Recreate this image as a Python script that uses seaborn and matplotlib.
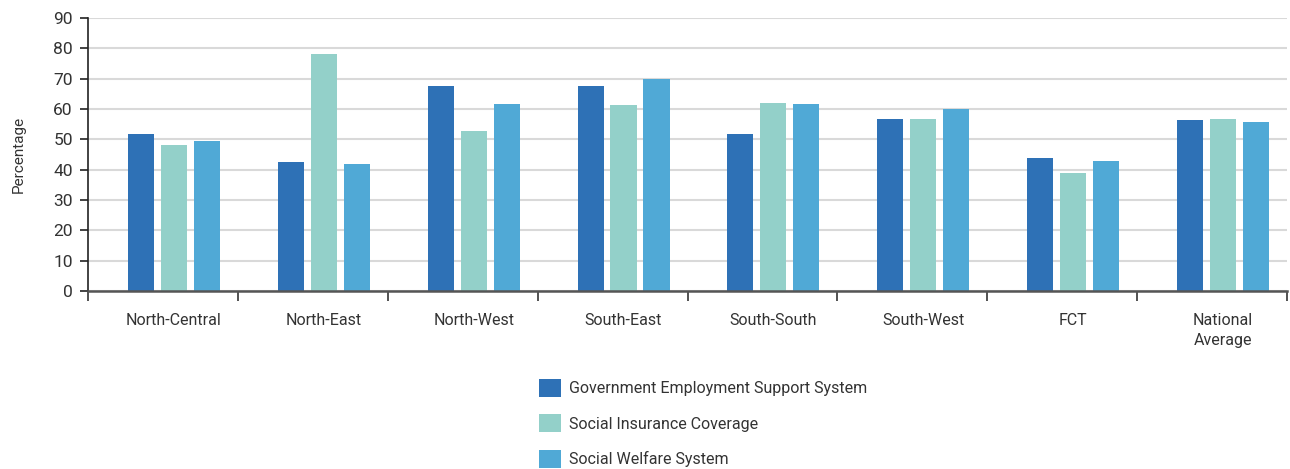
import pandas as pd
import matplotlib
matplotlib.use('Agg')
import matplotlib.pyplot as plt
from matplotlib.ticker import FixedLocator
import seaborn as sns

regions = ["North-Central", "North-East", "North-West", "South-East",
           "South-South", "South-West", "FCT", "National\nAverage"]
series = ["Government Employment Support System", "Social Insurance Coverage",
          "Social Welfare System"]
gov_support = [51.9, 42.4, 67.7, 67.7, 51.9, 56.8, 43.7, 56.5]
social_insurance = [48.0, 78.2, 52.6, 61.4, 62.1, 56.8, 38.8, 56.8]
social_welfare = [49.3, 42.0, 61.8, 70.0, 61.8, 60.1, 43.0, 55.8]
colors = ["#2E71B6", "#93D0C9", "#50A9D6"]

df = pd.DataFrame({
    "Region": regions * 3,
    "Series": [series[0]] * 8 + [series[1]] * 8 + [series[2]] * 8,
    "Value": gov_support + social_insurance + social_welfare,
})

sns.set_style("white")
plt.rcParams['font.family'] = ['Roboto', 'DejaVu Sans']

fig = plt.figure(figsize=(12.9, 4.69), dpi=100)
ax = fig.add_axes([88 / 1290, 1 - 291 / 469, (1287 - 88) / 1290, (291 - 18) / 469])

sns.barplot(data=df, x="Region", y="Value", hue="Series", order=regions,
            hue_order=series, palette=colors, width=0.66, gap=0.21,
            saturation=1, linewidth=0, ax=ax)

ax.set_ylim(0, 90)
ax.set_yticks(range(0, 91, 10))
ax.set_xlim(-0.573, 7.427)
ax.yaxis.grid(True, color="#d9d9d9", linewidth=1.5)
ax.set_axisbelow(True)
for s in ["top", "right"]:
    ax.spines[s].set_visible(False)
ax.spines["left"].set_color("#222222")
ax.spines["left"].set_linewidth(1.2)
ax.spines["bottom"].set_color("#555555")
ax.spines["bottom"].set_linewidth(1.8)

ax.xaxis.set_minor_locator(FixedLocator([i - 0.573 for i in range(9)]))
ax.tick_params(axis="x", which="major", bottom=True, length=0, pad=16,
               labelsize=11.5, labelcolor="#333333")
ax.tick_params(axis="x", which="minor", bottom=True, length=7, width=1.2,
               color="#333333", direction="out")
ax.tick_params(axis="y", left=True, length=6, width=1.2, color="#222222",
               labelsize=12.5, labelcolor="#333333", pad=5)
for t in ax.get_xticklabels():
    t.set_linespacing(1.4)
ax.set_xlabel("")
ax.set_ylabel("Percentage", fontsize=11, color="#333333", labelpad=20)

handles, labels = ax.get_legend_handles_labels()
ax.get_legend().remove()
fig.legend(handles, labels, loc="upper left", bbox_to_anchor=(531 / 1290, 1 - 371 / 469),
           frameon=False, fontsize=11.5, handlelength=1.35, handleheight=1.35,
           handletextpad=0.55, labelspacing=1.1, borderpad=0, labelcolor="#333333")

plt.savefig("out.png", dpi=100)
